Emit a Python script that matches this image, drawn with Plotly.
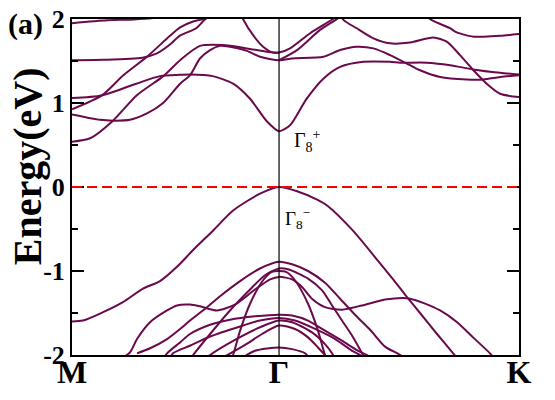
import plotly.graph_objects as go

# high-symmetry path (k in units of the M-Gamma length)
k_ticks = [0.0, 1.0, 2.159]
k_labels = ["M", "Γ", "K"]
e_ticks = [-2, -1, 0, 1, 2]
e_labels = ["-2", "-1", "0", "1", "2"]
e_minor = [-1.5, -0.5, 0.5, 1.5]

# ---- conduction bands (eV) ----
c1_k = [0, 0.17, 0.30, 0.42, 0.55]
c1_e = [1.95, 1.985, 1.995, 2.02, 2.08]

c2_k = [0, 0.15, 0.34, 0.41, 0.47, 0.52, 0.60, 0.64, 0.70]
c2_e = [1.51, 1.515, 1.54, 1.59, 1.69, 1.80, 1.89, 1.99, 2.1]

c3_k = [0, 0.144, 0.248, 0.362, 0.473, 0.522, 0.585, 0.633, 0.68]
c3_e = [0.925, 1.09, 1.33, 1.55, 1.80, 1.90, 1.97, 2.0, 2.06]

c4_k = [0, 0.144, 0.31, 0.425, 0.522, 0.57, 0.68, 0.778, 0.860, 0.942, 1.0,
        1.053, 1.133, 1.214, 1.295, 1.407, 1.536, 1.585, 1.713, 1.826, 1.937, 2.068, 2.159]
c4_e = [1.06, 1.09, 1.23, 1.32, 1.335, 1.34, 1.32, 1.23, 1.05, 0.78, 0.665,
        0.735, 1.05, 1.29, 1.43, 1.49, 1.49, 1.48, 1.48, 1.45, 1.40, 1.36, 1.34]

c5_k = [0, 0.135, 0.198, 0.280, 0.362, 0.440, 0.522, 0.570, 0.618, 0.667, 0.715, 0.763, 0.845, 0.908, 1.0,
        1.063, 1.214, 1.295, 1.375, 1.456, 1.536, 1.633, 1.681, 1.778, 1.907, 1.987, 2.068, 2.159]
c5_e = [0.864, 0.80, 0.79, 0.80, 0.876, 1.0, 1.23, 1.33, 1.53, 1.63, 1.68, 1.67, 1.62, 1.55, 1.51,
        1.53, 1.55, 1.63, 1.67, 1.65, 1.57, 1.45, 1.39, 1.31, 1.28, 1.28, 1.31, 1.33]

b1_k = [0, 0.087, 0.198, 0.312, 0.441, 0.522, 0.618, 0.729, 0.845, 0.942, 1.0, 1.053, 1.150, 1.261, 1.30]
b1_e = [0.54, 0.58, 0.79, 1.09, 1.32, 1.51, 1.68, 1.69, 1.65, 1.61, 1.60, 1.65, 1.83, 2.0, 2.07]

c6_k = [0.80, 0.826, 0.874, 0.923, 0.971, 1.0]
c6_e = [2.15, 2.0, 1.81, 1.67, 1.60, 1.60]

s2_k = [1.0, 1.087, 1.198, 1.280, 1.32]
s2_e = [1.51, 1.63, 1.87, 2.0, 2.08]

d1_k = [1.27, 1.311, 1.375, 1.456, 1.536, 1.633, 1.745, 1.810, 1.874, 1.939, 2.003, 2.068, 2.159]
d1_e = [2.15, 1.99, 1.89, 1.77, 1.71, 1.72, 1.78, 1.73, 1.57, 1.39, 1.23, 1.11, 1.07]

d2_k = [1.70, 1.729, 1.826, 1.858, 1.939, 1.987, 2.068, 2.159]
d2_e = [2.1, 2.0, 1.89, 1.84, 1.79, 1.79, 1.80, 1.82]

# ---- valence bands (eV) ----
v1_k = [0, 0.053, 0.150, 0.246, 0.343, 0.425, 0.507, 0.585, 0.681, 0.778, 0.908, 1.0,
        1.087, 1.184, 1.232, 1.357, 1.488, 1.551, 1.618, 1.681, 1.763, 1.841, 1.874]
v1_e = [-1.60, -1.59, -1.49, -1.37, -1.21, -1.12, -0.95, -0.75, -0.52, -0.28, -0.08, 0.0,
        -0.05, -0.15, -0.22, -0.52, -0.91, -1.10, -1.31, -1.50, -1.75, -1.98, -2.08]

v2_k = [0.232, 0.280, 0.314, 0.377, 0.459, 0.507, 0.570, 0.618, 0.700, 0.787, 0.884, 0.957, 1.0,
        1.063, 1.111, 1.159, 1.222, 1.304, 1.401, 1.512, 1.599, 1.633, 1.696, 1.778, 1.860, 1.937, 2.019, 2.043]
v2_e = [-2.05, -1.97, -1.81, -1.61, -1.47, -1.41, -1.40, -1.42, -1.47, -1.40, -1.22, -1.10, -1.07,
        -1.10, -1.19, -1.33, -1.43, -1.46, -1.41, -1.34, -1.32, -1.33, -1.38, -1.47, -1.61, -1.79, -1.98, -2.05]

v3_k = [0.314, 0.377, 0.459, 0.522, 0.570, 0.643, 0.715, 0.812, 0.908, 1.0,
        1.063, 1.140, 1.222, 1.295, 1.367, 1.440, 1.512, 1.585, 1.609]
v3_e = [-1.98, -1.92, -1.81, -1.69, -1.59, -1.45, -1.30, -1.12, -0.97, -0.89,
        -0.92, -1.00, -1.14, -1.33, -1.52, -1.70, -1.90, -2.0, -2.05]

vx_k = [0.570, 0.585, 0.667, 0.763, 0.860, 0.932, 1.0,
        1.043, 1.140, 1.208, 1.256, 1.304, 1.353, 1.401, 1.415]
vx_e = [-2.05, -2.0, -1.75, -1.47, -1.22, -1.05, -0.97,
        -0.98, -1.09, -1.23, -1.41, -1.59, -1.77, -1.98, -2.05]

s_k = [0.768, 0.778, 0.812, 0.860, 0.923, 0.966, 1.0, 1.034, 1.077, 1.140, 1.188, 1.222, 1.232]
s_e = [-2.05, -2.0, -1.71, -1.39, -1.11, -1.01, -1.00, -1.01, -1.11, -1.39, -1.71, -2.0, -2.05]

v4_k = [0.440, 0.459, 0.522, 0.570, 0.667, 0.763, 0.884, 1.0, 1.063, 1.140, 1.222, 1.304, 1.382, 1.425, 1.449]
v4_e = [-2.05, -1.98, -1.85, -1.75, -1.64, -1.58, -1.54, -1.52, -1.53, -1.59, -1.71, -1.83, -1.95, -2.0, -2.05]

v5_k = [0.473, 0.488, 0.570, 0.667, 0.812, 0.908, 1.0, 1.077, 1.174, 1.271, 1.353, 1.391, 1.415]
v5_e = [-2.05, -1.98, -1.89, -1.78, -1.66, -1.59, -1.56, -1.59, -1.69, -1.81, -1.95, -2.0, -2.05]

v6_k = [0.643, 0.667, 0.787, 0.908, 1.0, 1.063, 1.159, 1.222, 1.256, 1.271]
v6_e = [-2.05, -2.0, -1.82, -1.67, -1.59, -1.61, -1.73, -1.87, -1.98, -2.05]

v7_k = [0.715, 0.836, 0.918, 1.0, 1.077, 1.140, 1.188, 1.222, 1.237]
v7_e = [-2.05, -1.88, -1.75, -1.65, -1.69, -1.79, -1.91, -2.0, -2.05]

v8_k = [0.812, 0.884, 1.0, 1.063, 1.126, 1.150]
v8_e = [-2.05, -1.95, -1.91, -1.93, -1.98, -2.05]

bands = [
    (c1_k, c1_e), (c2_k, c2_e), (c3_k, c3_e), (c4_k, c4_e), (c5_k, c5_e),
    (b1_k, b1_e), (c6_k, c6_e), (s2_k, s2_e), (d1_k, d1_e), (d2_k, d2_e),
    (v1_k, v1_e), (v2_k, v2_e), (v3_k, v3_e), (vx_k, vx_e), (s_k, s_e),
    (v4_k, v4_e), (v5_k, v5_e), (v6_k, v6_e), (v7_k, v7_e), (v8_k, v8_e),
]

BAND = "#6a0a4c"
SERIF = "Liberation Serif"

fig = go.Figure()
for ks, es in bands:
    fig.add_trace(
        go.Scatter(
            x=ks, y=es, mode="lines",
            line=dict(color=BAND, width=2, shape="spline", smoothing=0.7),
            hoverinfo="skip", showlegend=False,
        )
    )

fig.add_vline(x=k_ticks[1], line=dict(color="black", width=1.2))
fig.add_hline(y=0, line=dict(color="red", width=2, dash="10px,5px"))

fig.add_annotation(x=1.063, y=0.55, xref="x", yref="y", text="Γ<sub>8</sub><sup>+</sup>",
                   showarrow=False, xanchor="left", yanchor="middle",
                   font=dict(family=SERIF, size=20, color="black"))
fig.add_annotation(x=1.019, y=-0.37, xref="x", yref="y", text="Γ<sub>8</sub><sup>−</sup>",
                   showarrow=False, xanchor="left", yanchor="middle",
                   font=dict(family=SERIF, size=19, color="black"))

fig.add_annotation(x=0, y=0.562, xref="paper", yref="paper", xshift=-45,
                   text="<b>Energy(eV)</b>", textangle=-90, showarrow=False,
                   xanchor="center", yanchor="middle",
                   font=dict(family=SERIF, size=40, color="black"))
fig.add_annotation(x=0, y=1, xref="paper", yref="paper", xshift=-47, yshift=-5,
                   text="<b>(a)</b>", showarrow=False, xanchor="center", yanchor="middle",
                   font=dict(family=SERIF, size=30, color="black"))

fig.update_xaxes(
    range=[k_ticks[0], k_ticks[-1]], tickvals=k_ticks,
    ticktext=["<b>%s</b>" % t for t in k_labels], ticks="",
    showline=True, linecolor="black", linewidth=2, mirror=True,
    showgrid=False, zeroline=False, automargin=False,
    ticklabelstandoff=-12,
    tickfont=dict(family=SERIF, size=32, color="black"),
)
fig.update_yaxes(
    range=[-2, 2], tickvals=e_ticks, ticktext=["<b>%s</b>" % t for t in e_labels],
    ticks="inside", ticklen=12, tickwidth=1.5, tickcolor="black",
    showline=True, linecolor="black", linewidth=2, mirror="ticks",
    showgrid=False, zeroline=False, automargin=False,
    minor=dict(tickvals=e_minor, ticks="inside", ticklen=6, tickwidth=1.5,
               tickcolor="black", showgrid=False),
    tickfont=dict(family=SERIF, size=26, color="black"),
)
fig.update_layout(
    width=555, height=400,
    margin=dict(l=72, r=36, t=19, b=45, autoexpand=False),
    paper_bgcolor="white", plot_bgcolor="white",
)

fig.write_html("out.html", config={"displayModeBar": False},
               post_script="document.body.style.margin = '0px';")
